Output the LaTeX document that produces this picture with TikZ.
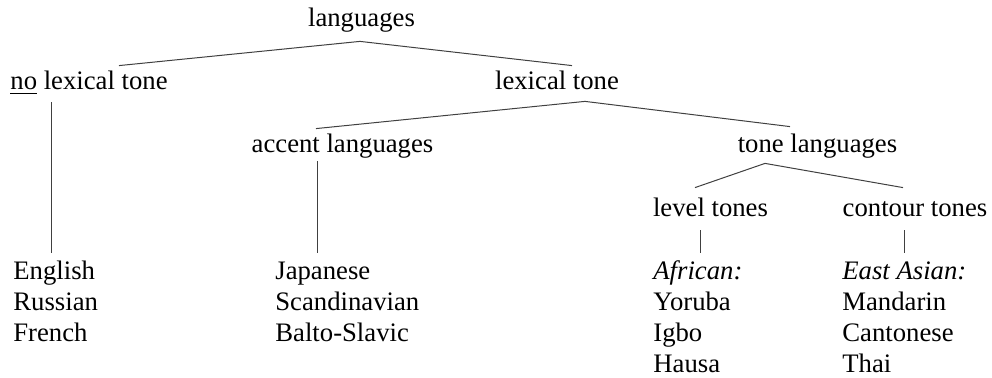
\documentclass[tikz,border=0pt]{standalone}
\usepackage{fontspec}
\setmainfont{Liberation Serif}
\usetikzlibrary{calc}
\tikzset{
  nd/.style={inner sep=0pt, anchor=base, text height=9pt, text depth=3pt},
  lf/.style={nd, anchor=base west},
  br/.style={draw=black!75, line width=0.5pt},
}
\begin{document}
\begin{tikzpicture}[x=0.5pt, y=-0.5pt, font=\fontsize{13.35pt}{16pt}\selectfont]
  \useasboundingbox (0,0) rectangle (992,378);
  % tree
  \node[nd] (lang) at (361.5,27) {languages};
  \node[nd] (nolex) at (89,90) {\underline{no} lexical tone};
  \node[nd] (lex) at (557,90) {lexical tone};
  \node[nd] (acc) at (342.5,153) {accent languages};
  \node[nd] (tone) at (817.5,153) {tone languages};
  \node[nd] (lvl) at (710.5,217) {level tones};
  \node[nd] (ctr) at (915,217) {contour tones};
  % leaves
  \foreach \w [count=\i] in {English,Russian,French} \node[lf] (nl\i) at (13,249+31*\i) {\w};
  \foreach \w [count=\i] in {Japanese,Scandinavian,Balto-Slavic} \node[lf] (ac\i) at (275,249+31*\i) {\w};
  \foreach \w [count=\i] in {\textit{African:},Yoruba,Igbo,Hausa} \node[lf] (lv\i) at (653,249+31*\i) {\w};
  \foreach \w [count=\i] in {\textit{East Asian:},Mandarin,Cantonese,Thai} \node[lf] (ct\i) at (842,249+31*\i) {\w};
  % branches
  \draw[br] ($(lang.south)+(-1.5,8)$) -- ($(nolex.north)+(30,-6)$);
  \draw[br] ($(lang.south)+(-1.5,8)$) -- ($(lex.north)+(15,-6)$);
  \draw[br] ($(lex.south)+(28,5)$) -- ($(acc.north)+(-26.5,-6)$);
  \draw[br] ($(lex.south)+(28,5)$) -- ($(tone.north)+(-27.5,-8)$);
  \draw[br] ($(tone.south)+(-52.5,4)$) -- ($(lvl.north)+(-15.5,-11)$);
  \draw[br] ($(tone.south)+(-52.5,4)$) -- ($(ctr.north)+(-12,-11)$);
  \draw[br] ($(nolex.south -| nl1.north)+(-3,6)$) -- ($(nl1.north)+(-3,-9)$);
  \draw[br] ($(acc.south -| ac1.north)+(-5.5,2)$) -- ($(ac1.north)+(-5.5,-9)$);
  \draw[br] ($(lvl.south -| lv1.north)+(2.5,7)$) -- ($(lv1.north)+(2.5,-9)$);
  \draw[br] ($(ctr.south -| ct1.north)+(0,7)$) -- ($(ct1.north)+(0,-9)$);
\end{tikzpicture}
\end{document}
